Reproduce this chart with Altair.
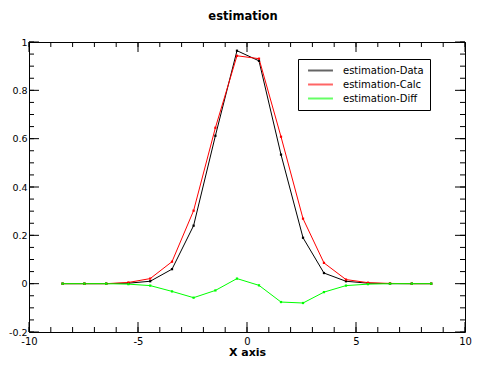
import altair as alt
import pandas as pd

series_names = ["estimation-Data", "estimation-Calc", "estimation-Diff"]
series_colors = ["#000000", "#ff0000", "#00ff00"]

x_vals = [-8.46, -7.46, -6.46, -5.44, -4.44, -3.44, -2.45, -1.45, -0.46,
          0.55, 1.56, 2.57, 3.53, 4.54, 5.55, 6.56, 7.56, 8.45]
data_vals = [0, 0, 0, 0.002, 0.01, 0.06, 0.24, 0.612, 0.964,
             0.922, 0.534, 0.19, 0.044, 0.01, 0.002, 0, 0, 0]
calc_vals = [0, 0, 0, 0.005, 0.021, 0.091, 0.302, 0.645, 0.943,
             0.931, 0.608, 0.269, 0.086, 0.017, 0.004, 0.001, 0, 0]
diff_vals = [0, 0, 0, -0.002, -0.008, -0.032, -0.058, -0.028, 0.021,
             -0.007, -0.076, -0.08, -0.035, -0.008, -0.002, 0, 0, 0]

x_label_values = [-10, -5, 0, 5, 10]
y_label_values = [-0.2, 0, 0.2, 0.4, 0.6, 0.8, 1]
x_minor_ticks = list(range(-10, 11))
y_minor_ticks = [round(-0.2 + 0.05 * i, 2) for i in range(25)]

W, H = 436, 290
FONT = "DejaVu Sans"

rows = []
for name, vals in zip(series_names, [data_vals, calc_vals, diff_vals]):
    for xv, yv in zip(x_vals, vals):
        rows.append({"series": name, "x": xv, "y": yv})
df = pd.DataFrame(rows)

xscale = alt.Scale(domain=[-10, 10], nice=False, zero=False)
yscale = alt.Scale(domain=[-0.2, 1], nice=False, zero=False)

lines = alt.Chart(df).mark_line(
    strokeWidth=1,
    point=alt.OverlayMarkDef(shape="square", size=5, filled=True),
).encode(
    x=alt.X("x:Q", scale=xscale, title="X axis",
            axis=alt.Axis(values=x_label_values, ticks=False, domain=False, grid=False,
                          labelFlush=False,
                          labelExpr="'' + datum.value", labelFont=FONT, labelFontSize=10,
                          labelColor="black", labelPadding=4, titleFont=FONT,
                          titleFontSize=11, titleFontWeight="bold", titleColor="black",
                          titlePadding=0)),
    y=alt.Y("y:Q", scale=yscale, title=None,
            axis=alt.Axis(values=y_label_values, ticks=False, domain=False, grid=False,
                          labelFlush=False,
                          labelExpr="'' + datum.value", labelFont=FONT, labelFontSize=9.5,
                          labelColor="black", labelPadding=2)),
    color=alt.Color("series:N", sort=series_names,
                    scale=alt.Scale(domain=series_names, range=series_colors),
                    legend=alt.Legend(title=None, orient="none", legendX=269, legendY=17,
                                      direction="vertical", strokeColor="black",
                                      fillColor="white", padding=6, rowPadding=3,
                                      symbolType="M-3,0H3", symbolSize=69,
                                      symbolStrokeWidth=2, symbolOpacity=0.6,
                                      labelFont=FONT, labelFontSize=10, labelColor="black",
                                      labelOffset=17, symbolOffset=11, cornerRadius=0)),
)


def y_ticks(vals, length):
    d = pd.DataFrame({"v": vals})
    base = alt.Chart(d).mark_rule(color="black", strokeWidth=1)
    left = base.encode(y=alt.Y("v:Q", scale=yscale),
                       x=alt.value(0), x2=alt.value(length))
    right = base.encode(y=alt.Y("v:Q", scale=yscale),
                        x=alt.value(W - length), x2=alt.value(W))
    return [left, right]


def x_ticks(vals, length):
    d = pd.DataFrame({"v": vals})
    base = alt.Chart(d).mark_rule(color="black", strokeWidth=1)
    bottom = base.encode(x=alt.X("v:Q", scale=xscale),
                         y=alt.value(H - length), y2=alt.value(H))
    top = base.encode(x=alt.X("v:Q", scale=xscale),
                      y=alt.value(0), y2=alt.value(length))
    return [bottom, top]


layers = ([lines] + y_ticks(y_minor_ticks, 5) + y_ticks(y_label_values, 10)
          + x_ticks(x_minor_ticks, 5) + x_ticks(x_label_values, 10))

chart = alt.layer(*layers).properties(
    width=W, height=H,
    title=alt.TitleParams("estimation", font=FONT, fontSize=11.5, fontWeight="bold",
                          color="black", offset=15, anchor="middle", dx=-4),
    autosize=alt.AutoSizeParams(type="none"),
    padding={"left": 21, "top": 34, "right": 10, "bottom": 27},
    background="white",
).resolve_scale(x="shared", y="shared").configure_view(stroke="black", strokeWidth=1)

chart.save("out.html", embed_options={"renderer": "svg", "actions": False})
